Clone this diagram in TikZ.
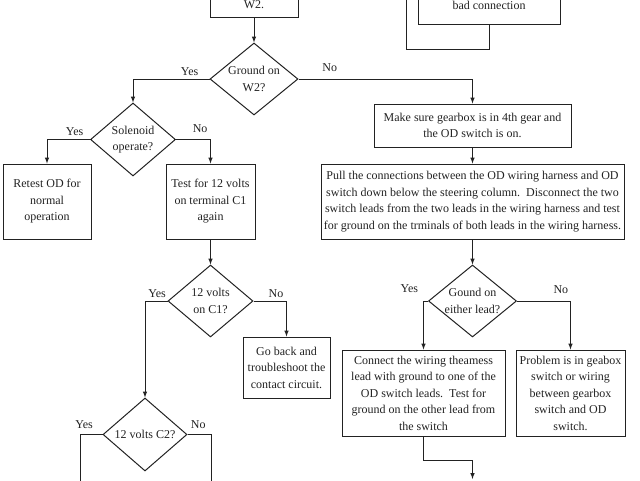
\documentclass[tikz,border=0pt]{standalone}
\usepackage{fontspec}
\setmainfont{Liberation Serif}
\usetikzlibrary{positioning,shapes.geometric}
\definecolor{ink}{HTML}{222222}
\tikzset{block/.style={draw=ink,line width=1pt,align=center,inner sep=1pt},
         decision/.style={diamond,draw=ink,line width=1pt,align=center,inner sep=-6pt,aspect=1.2},
         line/.style={-latex,draw=ink,line width=1pt},
         answer/.style={inner sep=3pt}
}

\begin{document}
\begin{tikzpicture}[x=1pt,y=-1pt,font=\fontsize{12}{16.5}\selectfont,text=ink]
  \useasboundingbox (0,0) rectangle (640,480);
  % boxes cut off at the top
  \node[block, minimum width=88pt, minimum height=24pt] (a) at (254,5) {W2.};
  \node[block, minimum width=142pt, minimum height=38pt] (b) at (489,5) {bad connection};
  % left branch
  \node[decision, minimum width=88pt, minimum height=72pt] (q) at (254,79) {Ground on\\W2?};
  \node[decision, minimum width=85pt, minimum height=73pt] (s) at (133,139.5) {Solenoid\\operate?};
  \node[block, minimum width=88pt, minimum height=75pt] (r) at (47,201.5) {Retest OD for\\normal\\operation};
  \node[block, minimum width=89pt, minimum height=75pt] (t) at (210.5,201.5) {Test for 12 volts\\on terminal C1\\again};
  \node[decision, minimum width=85pt, minimum height=72pt] (v) at (210.5,301) {12 volts\\on C1?};
  \node[block, minimum width=87pt, minimum height=61pt] (g) at (286.5,367.5) {Go back and\\troubleshoot the\\contact circuit.};
  \node[decision, minimum width=84pt, minimum height=73pt] (w) at (145,434.5) {12 volts C2?};
  % right branch
  \node[block, minimum width=197pt, minimum height=43pt] (m) at (472.5,125.5) {Make sure gearbox is in 4th gear and\\the OD switch is on.};
  \node[block, minimum width=303pt, minimum height=75pt] (p) at (472.5,201.5) {Pull the connections between the OD wiring harness and OD\\switch down below the steering column.\ \ Disconnect the two\\switch leads from the two leads in the wiring harness and test\\for ground on the trminals of both leads in the wiring harness.};
  \node[decision, minimum width=88pt, minimum height=72pt] (e) at (472.5,301) {Gound on\\either lead?};
  \node[block, minimum width=163pt, minimum height=86pt] (c) at (423.5,393) {Connect the wiring theamess\\lead with ground to one of the\\OD switch leads.\ \ Test for\\ground on the other lead from\\the switch};
  \node[block, minimum width=109pt, minimum height=86pt] (x) at (570.5,393) {Problem is in geabox\\switch or wiring\\between gearbox\\switch and OD\\switch.};
  % loose ends
  \coordinate (bturn) at (406,49);
  \coordinate (bend) at (406,-10);
  \coordinate (wy) at (80,490);
  \coordinate (wn) at (211,490);
  \coordinate (cjog) at (472.5,460);
  \coordinate (cend) at (472.5,479);

  \draw[line] (a) -- (q);
  \draw[draw=ink,line width=1pt] (b.south) |- (bturn) -- (bend);
  \draw[line] (q.west) -| node[answer,pos=0.13,above] {Yes} (s);
  \draw[line] (q.east) -| node[answer,pos=0.09,above,yshift=4pt] {No} (m);
  \draw[line] (s.west) -| node[answer,pos=0.18,above] {Yes} (r);
  \draw[line] (s.east) -| node[answer,pos=0.35,above,yshift=3pt] {No} (t);
  \draw[line] (t) -- (v);
  \draw[line] (v.west) -| node[answer,pos=0.23,above] {Yes} (w);
  \draw[line] (v.east) -| node[answer,pos=0.34,above] {No} (g);
  \draw[line] (w.west) -| node[answer,pos=0.41,above,yshift=2pt] {Yes} (wy);
  \draw[line] (w.east) -| node[answer,pos=0.23,above,yshift=2pt] {No} (wn);
  \draw[line] (m) -- (p);
  \draw[line] (p) -- (e);
  \draw[line] (e.west) -| node[answer,pos=0.5,above left,xshift=-2pt,yshift=5pt] {Yes} (c);
  \draw[line] (e.east) -| node[answer,pos=0.41,above,yshift=4pt] {No} (x);
  \draw[line] (c.south) |- (cjog) -- (cend);
%  \draw[line] (x.south) |- (cjog);
\end{tikzpicture}
\end{document}
